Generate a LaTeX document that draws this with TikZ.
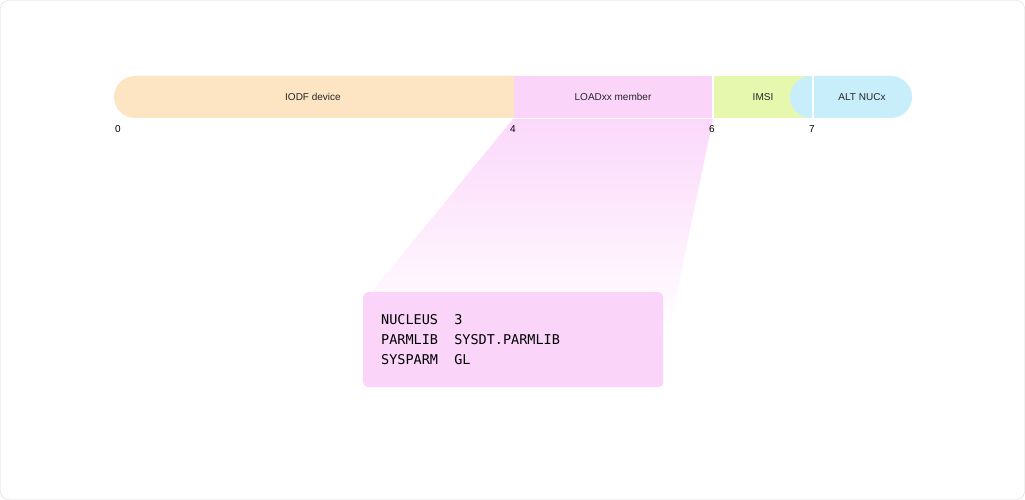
\documentclass[tikz,border=0pt]{standalone}
\usepackage{fontspec}
\setmainfont{Liberation Sans}
\newfontfamily\monof{DejaVu Sans Mono}
\definecolor{cOr}{HTML}{FDE5C4}
\definecolor{cPk}{HTML}{FBD4FA}
\definecolor{cGr}{HTML}{E6F7AE}
\definecolor{cBl}{HTML}{C8EDFB}
\begin{document}
\begin{tikzpicture}[x=1pt,y=-1pt,
  lab/.style={font=\fontsize{10}{12}\selectfont, text=black!85},
  num/.style={font=\fontsize{10}{12}\selectfont, anchor=north}]
\useasboundingbox (0,0) rectangle (1025,500);
\draw[black!15, rounded corners=8pt, fill=white] (0.5,0.5) rectangle (1024.5,499.5);
% zoom trapezoid
\shade[top color=cPk!90, bottom color=white] (513,119) -- (713,119) -- (668,335) -- (365,300) -- cycle;
% bar
\fill[cOr, rounded corners=21pt] (114,76) rectangle (540,118);
\fill[cOr] (500,76) rectangle (512,118);
\fill[cPk] (514,76) rectangle (712,118);
\fill[cGr] (714,76) rectangle (812,118);
\fill[cBl, rounded corners=21pt] (790,76) rectangle (912,118);
\fill[cBl] (814,76) rectangle (840,118);
\fill[white] (812,76) rectangle (814,118);
\node[lab] (iodf) at (313,97) {IODF device};
\node[lab] (load) at (613,97) {LOADxx member};
\node[lab] (imsi) at (763,97) {IMSI};
\node[lab] (alt) at (862,97) {ALT NUCx};
\node[num] (n0) at (118,122) {0};
\node[num] (n4) at (513,122) {4};
\node[num] (n6) at (712,122) {6};
\node[num] (n7) at (812,122) {7};
% box
\node[fill=cPk, rounded corners=5pt, minimum width=300pt, minimum height=95pt, anchor=north west, inner sep=0pt] (box) at (363,292) {};
\node[anchor=west, align=left, font=\monof\fontsize{13.5}{20}\selectfont, inner sep=0pt] (txt) at (381,340)
 {NUCLEUS\ \ 3\\PARMLIB\ \ SYSDT.PARMLIB\\SYSPARM\ \ GL};
\end{tikzpicture}
\end{document}
